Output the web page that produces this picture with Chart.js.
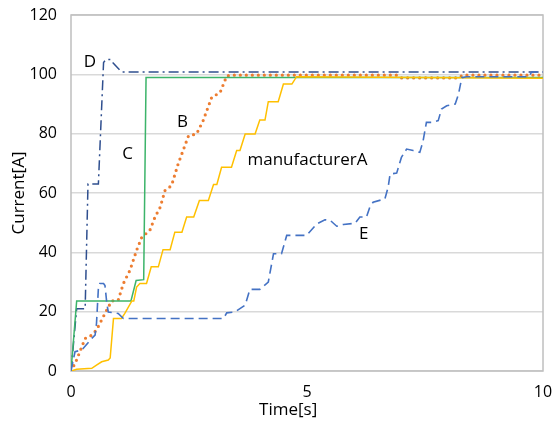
<!DOCTYPE html>
<html>
<head>
<meta charset="utf-8">
<title>Current vs Time</title>
<script src="https://cdn.jsdelivr.net/npm/chart.js@4.4.1/dist/chart.umd.min.js"></script>
<style>
  html, body { margin: 0; padding: 0; background: #ffffff; }
  #wrap { width: 555px; height: 425px; }
</style>
</head>
<body>
<div id="wrap"><canvas id="chart" width="555" height="425"></canvas></div>
<script>
// values (time in s, current in A)
const aTime = [0, 0.12, 0.44, 0.54, 0.65, 0.79, 0.83, 0.90, 1.07, 1.14, 1.29, 1.33, 1.39, 1.46, 1.6, 1.7, 1.85, 1.95, 2.1, 2.2, 2.35, 2.45, 2.6, 2.72, 2.91, 3.02, 3.09, 3.19, 3.4, 3.51, 3.58, 3.69, 3.9, 4.0, 4.11, 4.18, 4.39, 4.5, 4.68, 4.78, 10];
const aCurrent = [0, 0.6, 0.9, 2, 3.1, 3.7, 4.4, 17.7, 17.7, 19.4, 23.6, 23.6, 28.3, 29.5, 29.5, 35.1, 35.1, 40.9, 40.9, 46.8, 46.8, 51.9, 51.9, 57.5, 57.5, 62.9, 62.9, 68.7, 68.7, 74.3, 74.3, 79.9, 79.9, 84.6, 84.6, 90.8, 90.8, 96.7, 96.7, 99.2, 98.7];

const bTime = [0, 0.1, 0.2, 0.3, 0.4, 0.54, 0.72, 0.86, 1.0, 1.11, 1.25, 1.39, 1.5, 1.67, 1.78, 1.89, 1.99, 2.13, 2.27, 2.49, 2.66, 2.8, 2.98, 3.16, 3.3, 3.44, 6.9, 7.0, 8.2, 8.3, 10];
const bCurrent = [0, 3, 7, 11, 11.6, 13.8, 19.4, 23.6, 23.9, 29.5, 34, 40.7, 45.1, 47.4, 51.9, 55.2, 60.8, 62.5, 69.8, 79.3, 79.9, 84.4, 92.2, 93.9, 99.5, 99.7, 99.7, 98.8, 98.8, 99.7, 99.7];

const cTime = [0, 0.12, 1.27, 1.38, 1.54, 1.59, 10];
const cCurrent = [0, 23.6, 23.6, 30.5, 30.8, 98.9, 98.9];

const dTime = [0, 0.12, 0.30, 0.36, 0.58, 0.69, 0.74, 0.84, 0.88, 1.07, 10];
const dCurrent = [0, 21, 21, 63, 63, 104, 105, 105, 104, 100.8, 100.8];

const eTime = [0, 0.085, 0.23, 0.44, 0.51, 0.54, 0.58, 0.61, 0.69, 0.72, 0.76, 0.79, 1.0, 1.11, 3.23, 3.30, 3.47, 3.69, 3.79, 4.0, 4.18, 4.29, 4.46, 4.57, 4.99, 5.21, 5.38, 5.49, 5.63, 5.77, 6.02, 6.12, 6.26, 6.33, 6.40, 6.65, 6.72, 6.76, 6.90, 7.0, 7.11, 7.25, 7.39, 7.46, 7.53, 7.64, 7.78, 7.85, 7.96, 8.14, 8.21, 8.28, 8.38, 9.7, 9.76, 10];
const eCurrent = [0, 6.5, 7.1, 11, 12.1, 16, 27.8, 29.5, 29.5, 28.8, 22.7, 19.9, 19.4, 17.7, 17.7, 19.6, 19.9, 22.2, 27.5, 27.5, 30, 39.5, 39.5, 45.7, 45.7, 49.6, 51, 50.8, 48.8, 49.4, 49.8, 51.9, 51.9, 55.2, 56.9, 58, 62, 66.4, 66.7, 72, 74.8, 74.3, 73.7, 77.6, 83.8, 83.8, 84.4, 88.3, 89.4, 90, 93.3, 98.9, 99.2, 99.2, 100.8, 100.8];

// text labels placed next to the curves
const labelText = ["D", "C", "B", "manufacturerA", "E"];
const labelTime = [0.4, 1.2, 2.36, 5.01, 6.2];
const labelCurrent = [104, 73, 84, 71, 46];

const yTicks = [0, 20, 40, 60, 80, 100, 120];
const xTicks = [0, 5, 10];

const FONT = "'Open Sans', 'Noto Sans', sans-serif";

const toPoints = (xs, ys) => xs.map((x, i) => ({ x: x, y: ys[i] }));

const lineLabels = {
  id: "lineLabels",
  afterDatasetsDraw(chart) {
    const { ctx, scales } = chart;
    ctx.save();
    ctx.font = "17px " + FONT;
    ctx.fillStyle = "#000000";
    ctx.textAlign = "center";
    ctx.textBaseline = "middle";
    labelText.forEach((t, i) => {
      ctx.fillText(t, scales.x.getPixelForValue(labelTime[i]), scales.y.getPixelForValue(labelCurrent[i]));
    });
    ctx.restore();
  },
};

const plotBorder = {
  id: "plotBorder",
  beforeDatasetsDraw(chart) {
    const { ctx, chartArea } = chart;
    ctx.save();
    ctx.strokeStyle = "#bfbfbf";
    ctx.lineWidth = 1.5;
    ctx.strokeRect(chartArea.left, chartArea.top, chartArea.right - chartArea.left, chartArea.bottom - chartArea.top);
    ctx.restore();
  },
};

const axisTitles = {
  id: "axisTitles",
  afterDraw(chart) {
    const { ctx, chartArea } = chart;
    ctx.save();
    ctx.font = "17px " + FONT;
    ctx.fillStyle = "#000000";
    ctx.textAlign = "center";
    ctx.textBaseline = "middle";
    ctx.fillText("Time[s]", chartArea.left + (chartArea.right - chartArea.left) * 0.46, 410);
    ctx.translate(19, (chartArea.top + chartArea.bottom) / 2);
    ctx.rotate(-Math.PI / 2);
    ctx.fillText("Current[A]", 0, 0);
    ctx.restore();
  },
};

const common = { pointRadius: 0, tension: 0, fill: false };

new Chart(document.getElementById("chart").getContext("2d"), {
  type: "line",
  data: {
    datasets: [
      { ...common, label: "E", data: toPoints(eTime, eCurrent), borderColor: "#4472c4", borderWidth: 1.6, borderDash: [9, 5] },
      { ...common, label: "manufacturerA", data: toPoints(aTime, aCurrent), borderColor: "#ffc000", borderWidth: 1.5 },
      { ...common, label: "C", data: toPoints(cTime, cCurrent), borderColor: "#3cb46a", borderWidth: 1.5 },
      { ...common, label: "B", data: toPoints(bTime, bCurrent), borderColor: "#ed7d31", borderWidth: 3.2, borderDash: [0, 6], borderCapStyle: "round" },
      { ...common, label: "D", data: toPoints(dTime, dCurrent), borderColor: "#2f4f8f", borderWidth: 1.5, borderDash: [10, 4, 2, 4] },
    ],
  },
  options: {
    responsive: false,
    animation: false,
    layout: { padding: { top: 15, right: 12, left: 0, bottom: 0 } },
    plugins: { legend: { display: false }, tooltip: { enabled: false } },
    scales: {
      x: {
        type: "linear",
        min: 0,
        max: 10,
        afterBuildTicks: (scale) => { scale.ticks = xTicks.map((v) => ({ value: v })); },
        afterFit: (scale) => {
          scale.height = 54;
          scale.paddingLeft = 0;
          scale.paddingRight = 0;
        },
        grid: { display: false, drawTicks: false },
        border: { display: false },
        ticks: { color: "#000000", font: { family: FONT, size: 16 }, padding: 12, maxRotation: 0 },
      },
      y: {
        type: "linear",
        min: 0,
        max: 120,
        afterBuildTicks: (scale) => { scale.ticks = yTicks.map((v) => ({ value: v })); },
        afterFit: (scale) => {
          scale.width = 71;
          scale.paddingTop = 0;
          scale.paddingBottom = 0;
        },
        grid: { color: "#d9d9d9", lineWidth: 1.5, drawTicks: false },
        border: { display: false },
        ticks: { color: "#000000", font: { family: FONT, size: 16 }, padding: 14 },
      },
    },
  },
  plugins: [plotBorder, lineLabels, axisTitles],
});
</script>
</body>
</html>
